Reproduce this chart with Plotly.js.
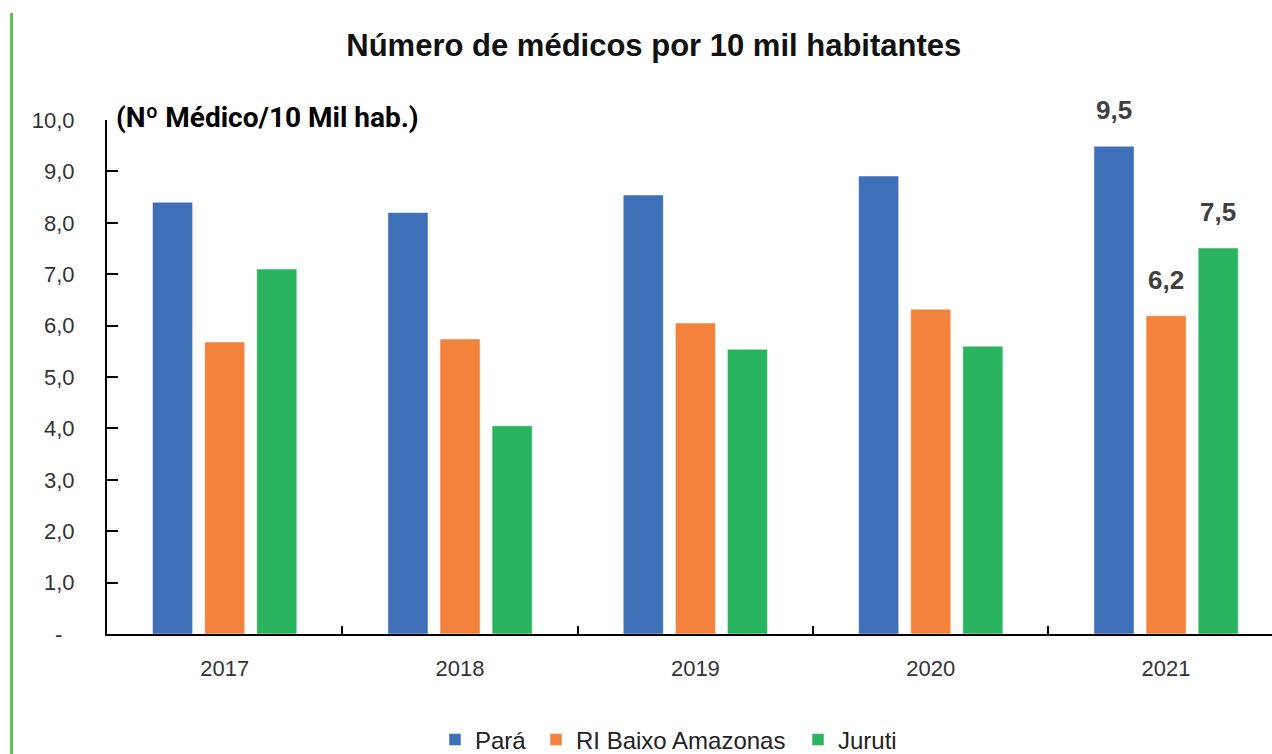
<!DOCTYPE html>
<html>
<head>
<meta charset="utf-8">
<script src="https://cdn.plot.ly/plotly-3.0.1.min.js"></script>
<style>
  html, body { margin: 0; padding: 0; background: #fff; overflow: hidden; }
  #wrap { position: relative; width: 1272px; height: 754px; }
  #chart { position: absolute; left: 0; top: 0; width: 1272px; height: 754px; }
  #edge { position: absolute; left: 10px; top: 13px; width: 3px; height: 741px; background: #66BB55; }
</style>
</head>
<body>
<div id="wrap"><div id="chart"></div><div id="edge"></div></div>
<script>
const years = ['2017', '2018', '2019', '2020', '2021'];
const para = [8.4, 8.2, 8.54, 8.91, 9.49];
const riBaixoAmazonas = [5.68, 5.74, 6.05, 6.32, 6.19];
const juruti = [7.1, 4.05, 5.54, 5.6, 7.51];
const seriesNames = ['Pará', 'RI Baixo Amazonas', 'Juruti'];
const yTickVals = [0, 1, 2, 3, 4, 5, 6, 7, 8, 9, 10];
const yTickText = ['-\u00a0\u00a0', '1,0', '2,0', '3,0', '4,0', '5,0', '6,0', '7,0', '8,0', '9,0', '10,0'];
const labelIndex = 4; // data labels shown only for 2021 (category index)
const labelText = ['9,5', '6,2', '7,5'];

const colors = ['#3E70B8', '#F2823C', '#2BB45F'];
const allSeries = [para, riBaixoAmazonas, juruti];
const legendIds = ['legend', 'legend2', 'legend3'];
const legendX = [435, 536, 798];

const traces = allSeries.map((vals, i) => ({
  type: 'bar',
  name: seriesNames[i],
  x: years,
  y: vals,
  legend: legendIds[i],
  marker: { color: colors[i], line: { color: 'rgba(255,255,255,0.5)', width: 1 } },
  hoverinfo: 'x+y+name'
}));

const shifts = [-52, 0, 52];
const annotations = allSeries.map((vals, i) => ({
  x: labelIndex,
  y: vals[labelIndex],
  xref: 'x', yref: 'y',
  text: labelText[i],
  showarrow: false,
  xshift: shifts[i],
  yshift: 36,
  font: { family: 'Liberation Sans, Arial, sans-serif', size: 26, color: '#404040', weight: 'bold' }
}));
annotations.push({
  x: 0.006, y: 1.005, xref: 'paper', yref: 'paper',
  xanchor: 'left', yanchor: 'middle',
  text: '<b>(Nº Médico/10 Mil hab.)</b>',
  showarrow: false,
  font: { family: 'Roboto, sans-serif', size: 28, color: '#000000' }
});

const legendFont = { family: 'Liberation Sans, Arial, sans-serif', size: 24, color: '#222222' };
function makeLegend(i) {
  return {
    orientation: 'h',
    xref: 'container', yref: 'container',
    x: legendX[i] / 1272, xanchor: 'left',
    y: 1 - 740 / 754, yanchor: 'middle',
    font: legendFont,
    itemwidth: 30,
    bgcolor: 'rgba(0,0,0,0)'
  };
}

const layout = {
  width: 1272,
  height: 754,
  margin: { l: 107, r: 0, t: 120, b: 120, autoexpand: false },
  paper_bgcolor: '#ffffff',
  plot_bgcolor: '#ffffff',
  title: {
    text: '<b>Número de médicos por 10 mil habitantes</b>',
    x: 0.514, xanchor: 'center',
    y: 0.94, yanchor: 'middle',
    font: { family: 'Liberation Sans, Arial, sans-serif', size: 31, color: '#111111' }
  },
  barmode: 'group',
  bargap: 0.336,
  bargroupgap: 0.23,
  showlegend: true,
  legend: makeLegend(0),
  legend2: makeLegend(1),
  legend3: makeLegend(2),
  xaxis: {
    type: 'category',
    range: [-0.5, 4.45],
    showline: true,
    linecolor: '#000000',
    linewidth: 2,
    ticks: 'inside',
    tickson: 'boundaries',
    ticklen: 8,
    tickwidth: 2,
    tickcolor: '#000000',
    showgrid: false,
    zeroline: false,
    ticklabelstandoff: 14,
    tickfont: { family: 'Liberation Sans, Arial, sans-serif', size: 22, color: '#333333' }
  },
  yaxis: {
    range: [0, 10],
    showline: true,
    linecolor: '#000000',
    linewidth: 2,
    ticks: 'inside',
    ticklen: 11,
    tickwidth: 2,
    tickcolor: '#000000',
    tickvals: yTickVals,
    ticktext: yTickText,
    showgrid: false,
    zeroline: false,
    ticklabelstandoff: 26,
    tickfont: { family: 'Liberation Sans, Arial, sans-serif', size: 22, color: '#333333' }
  },
  annotations: annotations
};

Plotly.newPlot('chart', traces, layout, { displayModeBar: false, responsive: false });
</script>
</body>
</html>
